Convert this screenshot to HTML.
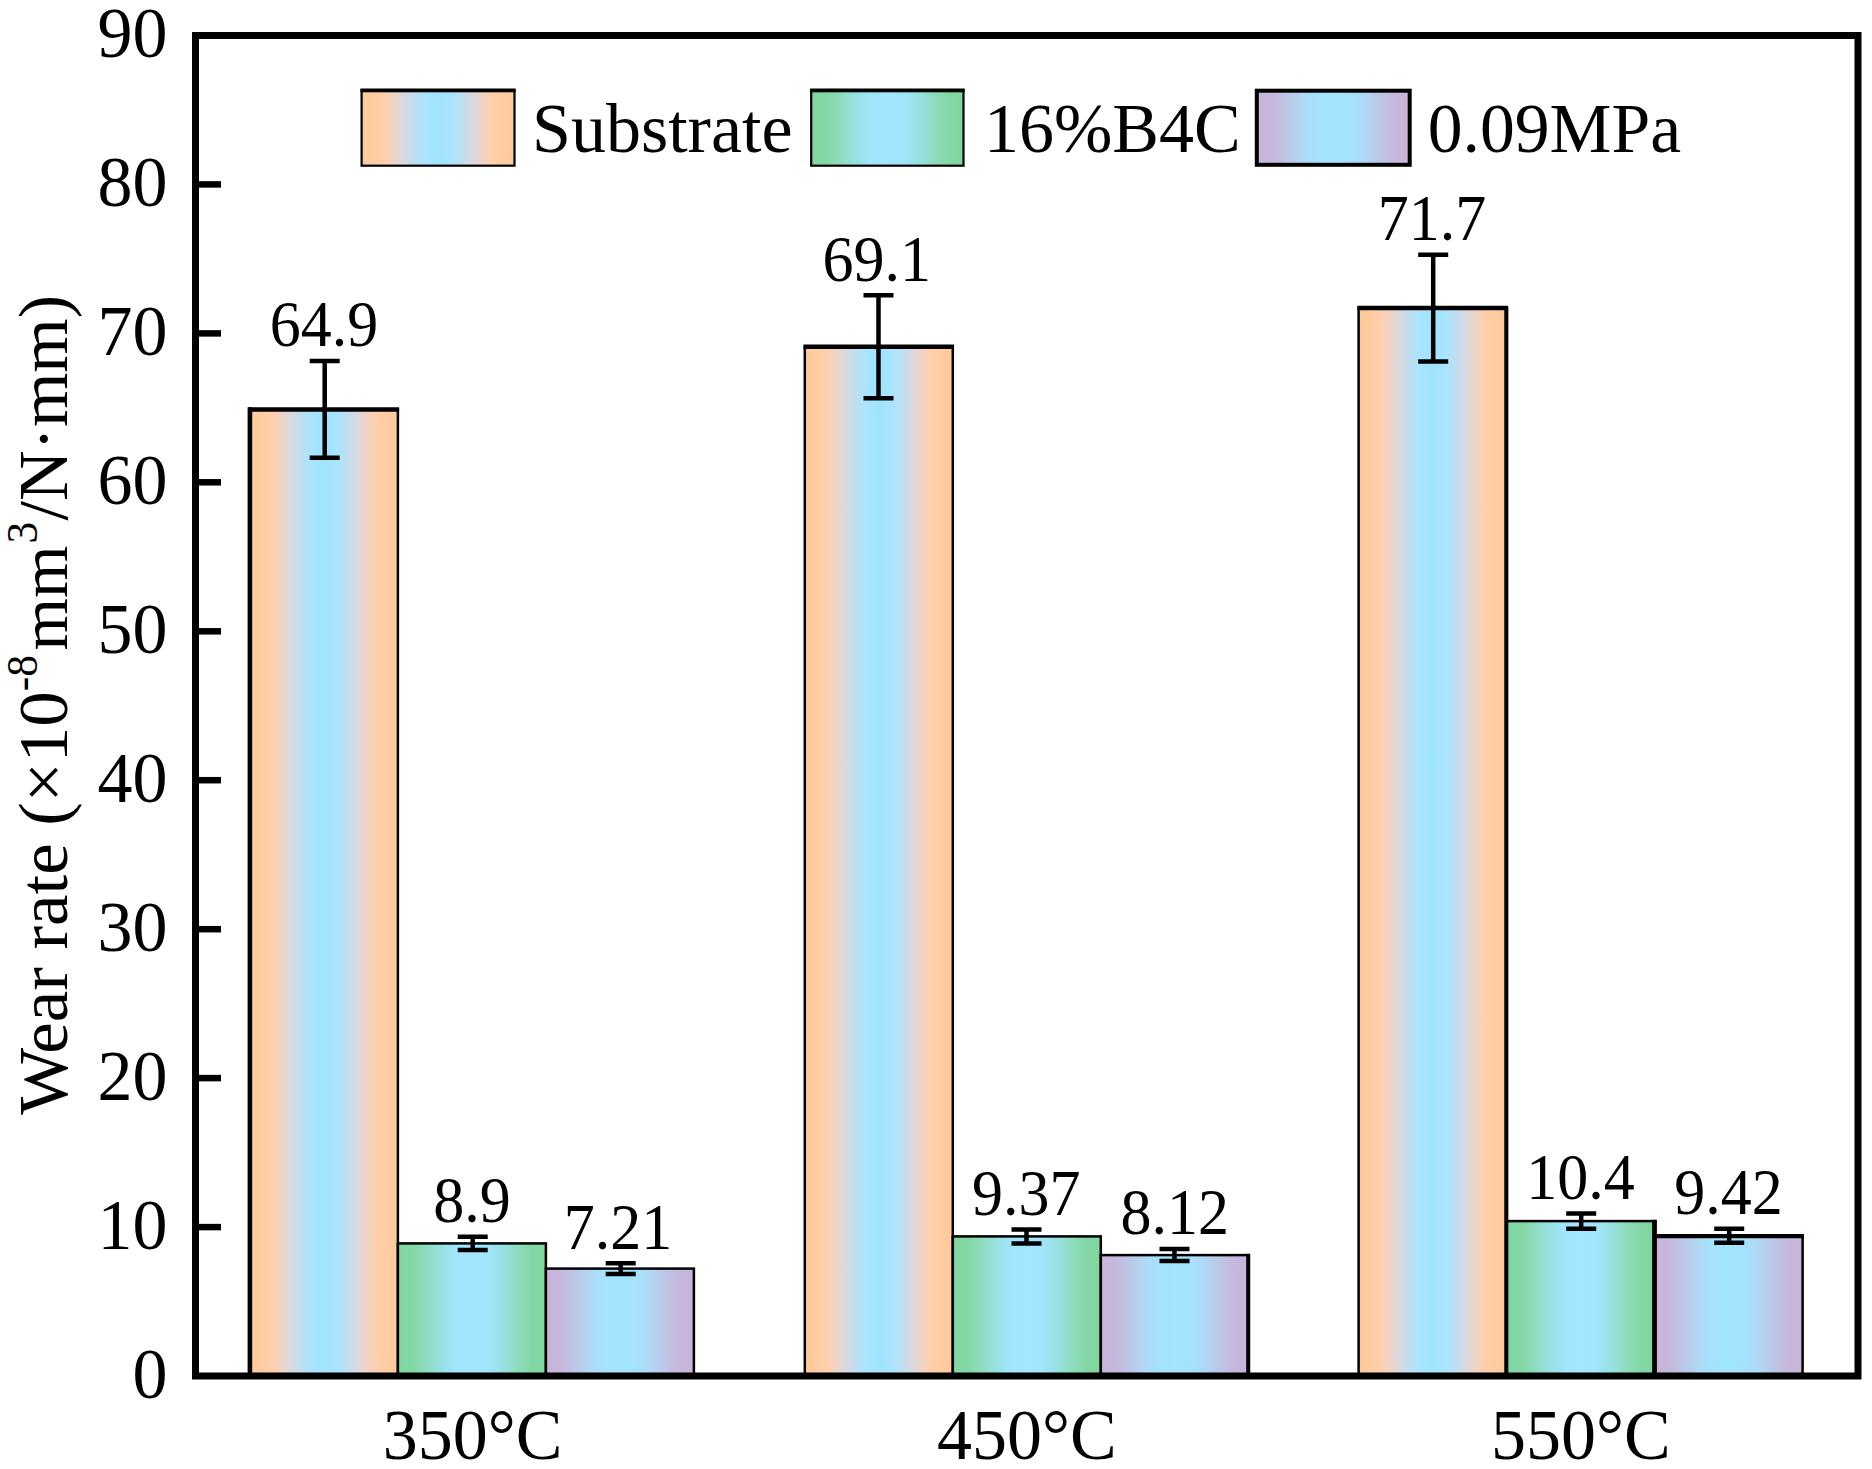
<!DOCTYPE html>
<html lang="en"><head><meta charset="utf-8"><title>Wear rate</title>
<style>
html,body{margin:0;padding:0;background:#fff;}
svg{display:block;}
text{font-family:"Liberation Serif","Times New Roman",serif;fill:#000;}
.tk{font-size:70px;text-anchor:end;}
.xl{font-size:70px;text-anchor:middle;}
.vl{font-size:62px;text-anchor:middle;}
.lg{font-size:69px;text-anchor:start;}
.yl{font-size:70px;text-anchor:middle;}
</style></head><body>
<svg width="1872" height="1469" viewBox="0 0 1872 1469">
<defs>
<linearGradient id="gO" x1="0" x2="1" y1="0" y2="0"><stop offset="0.000" stop-color="#ffc999"/><stop offset="0.125" stop-color="#ffcea6"/><stop offset="0.165" stop-color="#fbd0b2"/><stop offset="0.200" stop-color="#f3d2c2"/><stop offset="0.250" stop-color="#e1d7d4"/><stop offset="0.270" stop-color="#dad8de"/><stop offset="0.300" stop-color="#d0dae6"/><stop offset="0.350" stop-color="#bcdff0"/><stop offset="0.400" stop-color="#ace4fc"/><stop offset="0.450" stop-color="#a4e4fe"/><stop offset="0.500" stop-color="#9fe4fd"/><stop offset="0.550" stop-color="#a4e4fe"/><stop offset="0.600" stop-color="#ace4fc"/><stop offset="0.650" stop-color="#bcdff0"/><stop offset="0.700" stop-color="#d0dae6"/><stop offset="0.730" stop-color="#dad8de"/><stop offset="0.750" stop-color="#e1d7d4"/><stop offset="0.800" stop-color="#f3d2c2"/><stop offset="0.835" stop-color="#fbd0b2"/><stop offset="0.875" stop-color="#ffcea6"/><stop offset="1.000" stop-color="#ffc999"/></linearGradient>
<linearGradient id="gG" x1="0" x2="1" y1="0" y2="0"><stop offset="0.000" stop-color="#80d69e"/><stop offset="0.100" stop-color="#82d7a5"/><stop offset="0.175" stop-color="#8cdbb8"/><stop offset="0.250" stop-color="#93dfd2"/><stop offset="0.290" stop-color="#96e1e1"/><stop offset="0.350" stop-color="#9be4f0"/><stop offset="0.400" stop-color="#a0e6fc"/><stop offset="0.500" stop-color="#a3e6ff"/><stop offset="0.600" stop-color="#a0e6fc"/><stop offset="0.650" stop-color="#9be4f0"/><stop offset="0.710" stop-color="#96e1e1"/><stop offset="0.750" stop-color="#93dfd2"/><stop offset="0.825" stop-color="#8cdbb8"/><stop offset="0.900" stop-color="#82d7a5"/><stop offset="1.000" stop-color="#80d69e"/></linearGradient>
<linearGradient id="gP" x1="0" x2="1" y1="0" y2="0"><stop offset="0.000" stop-color="#c9b4d9"/><stop offset="0.100" stop-color="#c6b7dc"/><stop offset="0.175" stop-color="#bec3e4"/><stop offset="0.225" stop-color="#b7cbea"/><stop offset="0.275" stop-color="#b4d4f0"/><stop offset="0.325" stop-color="#aadcf8"/><stop offset="0.400" stop-color="#a5e2fd"/><stop offset="0.500" stop-color="#a2e6ff"/><stop offset="0.600" stop-color="#a5e2fd"/><stop offset="0.675" stop-color="#aadcf8"/><stop offset="0.725" stop-color="#b4d4f0"/><stop offset="0.775" stop-color="#b7cbea"/><stop offset="0.825" stop-color="#bec3e4"/><stop offset="0.900" stop-color="#c6b7dc"/><stop offset="1.000" stop-color="#c9b4d9"/></linearGradient>
</defs>
<rect x="0" y="0" width="1872" height="1469" fill="#fff"/>

<rect x="249.9" y="409.4" width="148.0" height="966.6" fill="url(#gO)" stroke="#000" stroke-width="2.5"/>
<line x1="248.6" y1="409.4" x2="399.1" y2="409.4" stroke="#000" stroke-width="4.5"/>
<rect x="397.9" y="1243.4" width="148.0" height="132.6" fill="url(#gG)" stroke="#000" stroke-width="2.5"/>
<rect x="545.9" y="1268.6" width="148.0" height="107.4" fill="url(#gP)" stroke="#000" stroke-width="2.5"/>
<line x1="249.9" y1="407.2" x2="249.9" y2="1376.0" stroke="#000" stroke-width="4.6"/>
<rect x="804.8" y="346.8" width="148.0" height="1029.2" fill="url(#gO)" stroke="#000" stroke-width="2.5"/>
<line x1="803.5" y1="346.8" x2="954.0" y2="346.8" stroke="#000" stroke-width="4.5"/>
<rect x="952.8" y="1236.4" width="148.0" height="139.6" fill="url(#gG)" stroke="#000" stroke-width="2.5"/>
<rect x="1100.8" y="1255.1" width="148.0" height="120.9" fill="url(#gP)" stroke="#000" stroke-width="2.5"/>
<rect x="1358.6" y="308.1" width="148.0" height="1067.9" fill="url(#gO)" stroke="#000" stroke-width="2.5"/>
<line x1="1357.4" y1="308.1" x2="1507.9" y2="308.1" stroke="#000" stroke-width="4.5"/>
<rect x="1506.6" y="1221.1" width="148.0" height="154.9" fill="url(#gG)" stroke="#000" stroke-width="2.5"/>
<rect x="1654.6" y="1235.7" width="148.0" height="140.3" fill="url(#gP)" stroke="#000" stroke-width="2.5"/>
<line x1="1248.2" y1="1253.8" x2="1248.2" y2="1376.0" stroke="#000" stroke-width="4.0"/>
<line x1="1506.3" y1="306.8" x2="1506.3" y2="1376.0" stroke="#000" stroke-width="4.1"/>
<line x1="1654.5" y1="1219.8" x2="1654.5" y2="1376.0" stroke="#000" stroke-width="4.8"/>
<line x1="1652.1" y1="1236.1" x2="1803.8" y2="1236.1" stroke="#000" stroke-width="4.3"/>
<path d="M324.7 361.0V457.7M309.7 361.0H339.7M309.7 457.7H339.7" stroke="#000" stroke-width="4.5" fill="none"/>
<path d="M472.7 1236.8V1250.1M457.7 1236.8H487.7M457.7 1250.1H487.7" stroke="#000" stroke-width="4.5" fill="none"/>
<path d="M620.7 1263.2V1274.0M605.7 1263.2H635.7M605.7 1274.0H635.7" stroke="#000" stroke-width="4.5" fill="none"/>
<path d="M878.5 295.3V398.3M863.5 295.3H893.5M863.5 398.3H893.5" stroke="#000" stroke-width="4.5" fill="none"/>
<path d="M1026.5 1229.5V1243.4M1011.5 1229.5H1041.5M1011.5 1243.4H1041.5" stroke="#000" stroke-width="4.5" fill="none"/>
<path d="M1174.5 1249.0V1261.1M1159.5 1249.0H1189.5M1159.5 1261.1H1189.5" stroke="#000" stroke-width="4.5" fill="none"/>
<path d="M1433.2 254.7V361.5M1418.2 254.7H1448.2M1418.2 361.5H1448.2" stroke="#000" stroke-width="4.5" fill="none"/>
<path d="M1581.2 1213.4V1228.8M1566.2 1213.4H1596.2M1566.2 1228.8H1596.2" stroke="#000" stroke-width="4.5" fill="none"/>
<path d="M1729.2 1228.7V1242.7M1714.2 1228.7H1744.2M1714.2 1242.7H1744.2" stroke="#000" stroke-width="4.5" fill="none"/>
<rect x="195.5" y="35.5" width="1662.5" height="1340.5" fill="none" stroke="#000" stroke-width="7"/>
<line x1="195.5" y1="1227.1" x2="221" y2="1227.1" stroke="#000" stroke-width="6.5"/>
<line x1="195.5" y1="1078.1" x2="221" y2="1078.1" stroke="#000" stroke-width="6.5"/>
<line x1="195.5" y1="929.2" x2="221" y2="929.2" stroke="#000" stroke-width="6.5"/>
<line x1="195.5" y1="780.2" x2="221" y2="780.2" stroke="#000" stroke-width="6.5"/>
<line x1="195.5" y1="631.3" x2="221" y2="631.3" stroke="#000" stroke-width="6.5"/>
<line x1="195.5" y1="482.3" x2="221" y2="482.3" stroke="#000" stroke-width="6.5"/>
<line x1="195.5" y1="333.4" x2="221" y2="333.4" stroke="#000" stroke-width="6.5"/>
<line x1="195.5" y1="184.4" x2="221" y2="184.4" stroke="#000" stroke-width="6.5"/>
<text class="tk" transform="translate(167.5 1397.6) scale(1 1.025)">0</text>
<text class="tk" transform="translate(167.5 1248.7) scale(1 1.025)">10</text>
<text class="tk" transform="translate(167.5 1099.7) scale(1 1.025)">20</text>
<text class="tk" transform="translate(167.5 950.8) scale(1 1.025)">30</text>
<text class="tk" transform="translate(167.5 801.8) scale(1 1.025)">40</text>
<text class="tk" transform="translate(167.5 652.9) scale(1 1.025)">50</text>
<text class="tk" transform="translate(167.5 503.9) scale(1 1.025)">60</text>
<text class="tk" transform="translate(167.5 355.0) scale(1 1.025)">70</text>
<text class="tk" transform="translate(167.5 206.0) scale(1 1.025)">80</text>
<text class="tk" transform="translate(167.5 57.1) scale(1 1.025)">90</text>
<text class="xl" transform="translate(472.6 1459) scale(1 1.035)">350°C</text>
<text class="xl" transform="translate(1026.8 1459) scale(1 1.035)">450°C</text>
<text class="xl" transform="translate(1580.9 1459) scale(1 1.035)">550°C</text>
<text class="vl" transform="translate(324.1 346.3) scale(1 1.045)">64.9</text>
<text class="vl" transform="translate(472.1 1222.1) scale(1 1.045)">8.9</text>
<text class="vl" transform="translate(618.1 1248.5) scale(1 1.045)">7.21</text>
<text class="vl" transform="translate(876.8 280.6) scale(1 1.045)">69.1</text>
<text class="vl" transform="translate(1026.2 1214.7) scale(1 1.045)">9.37</text>
<text class="vl" transform="translate(1174.8 1234.3) scale(1 1.045)">8.12</text>
<text class="vl" transform="translate(1431.9 239.9) scale(1 1.045)">71.7</text>
<text class="vl" transform="translate(1580.4 1198.6) scale(1 1.045)">10.4</text>
<text class="vl" transform="translate(1728.4 1213.9) scale(1 1.045)">9.42</text>
<rect x="361.60" y="89.80" width="152.90" height="75.90" fill="url(#gO)" stroke="#000" stroke-width="2.2"/>
<rect x="360.50" y="88.70" width="155.10" height="3.6" fill="#000"/>
<text class="lg" style="font-size:70px" x="532" y="151.5">Substrate</text>
<rect x="811.20" y="89.80" width="152.30" height="75.90" fill="url(#gG)" stroke="#000" stroke-width="2.2"/>
<rect x="810.10" y="88.70" width="154.50" height="3.6" fill="#000"/>
<text class="lg" style="font-size:70px" x="983.9" y="151.5">16%B4C</text>
<rect x="1256.80" y="90.70" width="152.90" height="74.10" fill="url(#gP)" stroke="#000" stroke-width="4.0"/>
<text class="lg" style="font-size:69.6px" x="1427.8" y="151.5">0.09MPa</text>
<text transform="translate(66.7 1114.8) rotate(-90)" font-size="70.8" text-anchor="start">Wear rate (×10</text>
<text transform="translate(37.1 691.2) rotate(-90)" font-size="43.5" text-anchor="start">-8</text>
<text transform="translate(66.7 650.4) rotate(-90)" font-size="67.4" text-anchor="start">mm</text>
<text transform="translate(37.1 543.6) rotate(-90)" font-size="43.5" text-anchor="start">3</text>
<text transform="translate(66.7 520.4) rotate(-90)" font-size="70" text-anchor="start">/N·mm)</text>
</svg>
</body></html>
